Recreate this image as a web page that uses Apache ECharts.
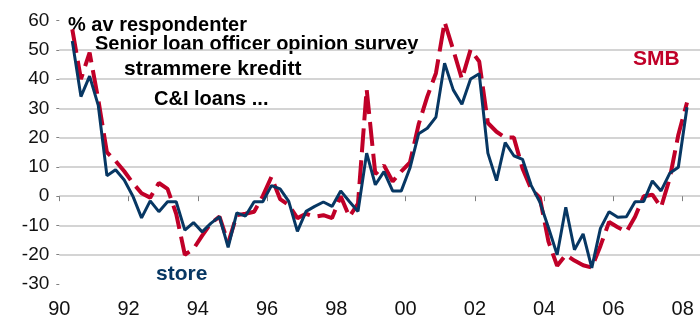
<!DOCTYPE html>
<html>
<head>
<meta charset="utf-8">
<script src="https://cdn.jsdelivr.net/npm/echarts@6/dist/echarts.min.js"></script>
<style>
html, body { margin: 0; padding: 0; background: #fff; }
#chart { width: 700px; height: 319px; }
</style>
</head>
<body>
<div id="chart"></div>
<script>
// kvartalsakse 1990K1 - 2008K2, data fra 1990K2 til 2008K1
var years = [1990, 1991, 1992, 1993, 1994, 1995, 1996, 1997, 1998, 1999,
             2000, 2001, 2002, 2003, 2004, 2005, 2006, 2007, 2008];
var quarters = [];
for (var i = 0; i < years.length; i++) {
    for (var q = 1; q <= 4; q++) {
        if (years[i] === 2008 && q > 2) break;
        quarters.push(years[i] + 'K' + q);
    }
}
var yearLabels = ['90', '92', '94', '96', '98', '00', '02', '04', '06', '08'];

// store foretak
var store = [53, 34, 41,
    31, 7, 9, 5.5,
    0, -7.4, -1.6, -5.3,
    -1.9, -1.9, -11.6, -9,
    -12.2, -9.3, -7, -17.5,
    -5.7, -6.8, -1.9, -1.9,
    3.6, 2.5, -1.8, -12,
    -5.2, -3.5, -2, -3.5,
    1.8, -1.8, -5.2, 14.7,
    3.9, 8.4, 1.8, 1.8,
    9.6, 21.3, 23.2, 27,
    45.4, 36.3, 31.4, 40,
    41.8, 14.7, 5.3, 18.3,
    13.8, 12.6, 3.7, -2,
    -10.8, -20, -3.8, -18.3,
    -12.9, -24.5, -11, -5.3,
    -7.2, -7, -1.9, -1.8,
    5.2, 1.8, 7.8, 9.9,
    30.4];

// SMB
var smb = [57, 40, 49,
    33, 15, 12, 8.5,
    4.5, 1, -0.5, 4.5,
    2.5, -6, -20, -18,
    -13.5, -9.3, -7, -16,
    -6.5, -6, -5.3, 0,
    6.6, -1, -3, -7.5,
    -6, -7, -6.5, -7.5,
    0, -7, -2.5, 36.5,
    7.5, 10.5, 5, 8.5,
    11.5, 24.5, 34, 42,
    59.5, 50, 40, 50,
    46, 25, 22, 20,
    20, 9.5, 2.5, -0.5,
    -15.5, -23.8, -20, -22,
    -23.6, -24.4, -17, -8.8,
    -10.6, -12.2, -7, 0,
    0.5, -3.8, 6, 21,
    32];

var red = '#C00028';
var navy = '#073763';
var font = '"Liberation Sans", Arial, sans-serif';

var myChart = echarts.init(document.getElementById('chart'));

function everyOtherYear(index) {
    return index % 8 === 0;
}

var option = {
    animation: false,
    backgroundColor: '#fff',
    grid: { left: 59.3, right: 0, top: 20.5, bottom: 34.7 },
    xAxis: {
        type: 'category',
        data: quarters,
        boundaryGap: true,
        offset: 4,
        axisLine: { show: false },
        axisTick: { show: true, interval: everyOtherYear, length: 5, lineStyle: { color: '#808080', width: 1 } },
        axisLabel: {
            interval: everyOtherYear,
            margin: 11,
            padding: [0, 8.66, 0, 0],
            color: '#111',
            fontFamily: font,
            fontSize: 20,
            formatter: function (value, index) {
                return yearLabels[index / 8];
            }
        },
        splitLine: { show: false }
    },
    yAxis: {
        type: 'value',
        min: -30,
        max: 60,
        interval: 10,
        axisLine: { show: false },
        axisTick: { show: true, length: 3, lineStyle: { color: '#808080', width: 1 } },
        axisLabel: { margin: 10, color: '#111', fontFamily: font, fontSize: 19 },
        splitLine: { show: true, showMinLine: false, showMaxLine: false, lineStyle: { color: '#c6c6c6', width: 1.5 } }
    },
    series: [
        {
            name: 'SMB',
            type: 'line',
            data: [null].concat(smb),
            symbol: 'none',
            lineStyle: { color: red, width: 4, type: [24, 8] }
        },
        {
            name: 'store',
            type: 'line',
            data: [null].concat(store),
            symbol: 'none',
            lineStyle: { color: navy, width: 3 }
        }
    ],
    graphic: [
        { type: 'text', x: 68, y: 25, style: { text: '% av respondenter', fill: '#000', font: 'bold 20px ' + font, verticalAlign: 'middle' } },
        { type: 'text', x: 95, y: 44, style: { text: 'Senior loan officer opinion survey', fill: '#000', font: 'bold 20px ' + font, verticalAlign: 'middle' } },
        { type: 'text', x: 124, y: 69, style: { text: 'strammere kreditt', fill: '#000', font: 'bold 21px ' + font, verticalAlign: 'middle' } },
        { type: 'text', x: 154, y: 99, style: { text: 'C&I loans ...', fill: '#000', font: 'bold 20px ' + font, verticalAlign: 'middle' } },
        { type: 'text', x: 633, y: 59, style: { text: 'SMB', fill: red, font: 'bold 21px ' + font, verticalAlign: 'middle' } },
        { type: 'text', x: 156, y: 274, style: { text: 'store', fill: navy, font: 'bold 21px ' + font, verticalAlign: 'middle' } }
    ]
};

myChart.setOption(option);
</script>
</body>
</html>
